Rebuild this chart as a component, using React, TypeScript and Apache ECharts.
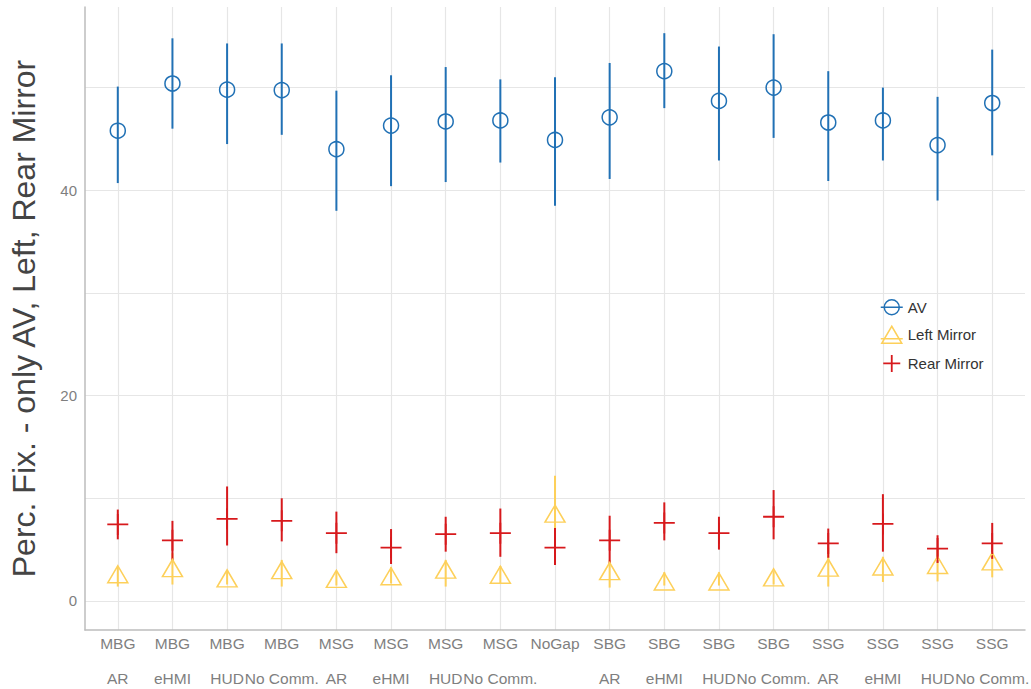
import React, { useEffect, useRef } from 'react';
import * as echarts from 'echarts';

const categories = [
  'MBG\nAR', 'MBG\neHMI', 'MBG\nHUD', 'MBG\nNo Comm.',
  'MSG\nAR', 'MSG\neHMI', 'MSG\nHUD', 'MSG\nNo Comm.',
  'NoGap',
  'SBG\nAR', 'SBG\neHMI', 'SBG\nHUD', 'SBG\nNo Comm.',
  'SSG\nAR', 'SSG\neHMI', 'SSG\nHUD', 'SSG\nNo Comm.',
];

const avMean = [45.8, 50.4, 49.8, 49.75, 44.0, 46.3, 46.7, 46.8, 44.9, 47.1, 51.6, 48.7, 50.0, 46.6, 46.8, 44.4, 48.5];
const avLow = [40.7, 46.0, 44.5, 45.4, 38.0, 40.4, 40.8, 42.7, 38.5, 41.1, 48.0, 42.9, 45.1, 40.9, 42.9, 39.0, 43.4];
const avHigh = [50.1, 54.8, 54.3, 54.3, 49.7, 51.2, 52.0, 50.8, 51.0, 52.4, 55.3, 54.0, 55.2, 51.6, 50.0, 49.1, 53.7];

const leftMean = [2.6, 3.2, 2.2, 3.0, 2.15, 2.4, 3.05, 2.55, 8.5, 2.9, 1.9, 1.9, 2.3, 3.25, 3.35, 3.5, 3.85];
const leftLow = [1.4, 1.6, 1.6, 1.4, 1.5, 1.7, 1.4, 1.7, 4.85, 1.3, 1.5, 1.5, 1.6, 1.4, 1.85, 1.9, 2.3];
const leftHigh = [3.35, 4.65, 3.0, 4.0, 2.9, 3.3, 4.0, 3.4, 12.2, 4.0, 2.8, 2.8, 2.9, 5.2, 4.3, 5.0, 4.7];

const rearMean = [7.45, 5.9, 8.0, 7.8, 6.6, 5.2, 6.5, 6.6, 5.2, 5.9, 7.6, 6.6, 8.2, 5.6, 7.5, 5.1, 5.6];
const rearLow = [6.0, 3.9, 5.4, 5.8, 4.65, 3.6, 4.8, 4.3, 3.5, 3.6, 5.9, 5.0, 6.0, 4.2, 4.8, 3.7, 4.1];
const rearHigh = [8.9, 7.8, 11.15, 10.0, 8.7, 7.0, 8.2, 9.0, 7.1, 8.3, 9.6, 8.2, 10.8, 7.05, 10.4, 6.4, 7.6];

const yGridValues = [0, 10, 20, 30, 40, 50];
const yLabelValues = [0, 20, 40];

const BLUE = '#2171b5';
const YELLOW = '#fdd05a';
const RED = '#d7191c';
const FONT = '"Liberation Sans", Arial, Helvetica, sans-serif';

function errorSeries(name: string, low: number[], high: number[], color: string, width: number) {
  return {
    type: 'custom',
    name,
    data: low.map((l, i) => [i, l, high[i]]),
    encode: { x: 0, y: [1, 2] },
    renderItem: (_params: any, api: any) => {
      const x = api.value(0);
      const p1 = api.coord([x, api.value(1)]);
      const p2 = api.coord([x, api.value(2)]);
      return {
        type: 'line',
        shape: { x1: p1[0], y1: p1[1], x2: p2[0], y2: p2[1] },
        style: { stroke: color, lineWidth: width },
      };
    },
    silent: true,
    z: 2,
  };
}

function pointSeries(name: string, values: number[], symbol: string, size: any, color: string, bw: number) {
  return {
    type: 'scatter',
    name,
    data: values.map((v, i) => [i, v]),
    symbol,
    symbolSize: size,
    itemStyle: { color: 'rgba(0,0,0,0)', borderColor: color, borderWidth: bw, opacity: 1 },
    z: 3,
  };
}

export default function App() {
  const ref = useRef<HTMLDivElement>(null);
  useEffect(() => {
    if (!ref.current) return;
    const chart = echarts.init(ref.current, undefined, { renderer: 'svg' });
    const idx = categories.map((_, i) => i);
    chart.setOption({
      animation: false,
      backgroundColor: '#ffffff',
      grid: { left: 85, right: 6, top: 7, bottom: 59, containLabel: false, outerBoundsMode: 'none' },
      xAxis: {
        type: 'value',
        min: -0.6,
        max: 16.6,
        axisLine: { show: true, onZero: false, lineStyle: { color: '#bdbdbd', width: 1.5 } },
        axisTick: { show: false, customValues: idx },
        axisLabel: {
          customValues: idx,
          formatter: (v: number) => categories[Math.round(v)],
          color: '#7f7f7f',
          fontSize: 15.5,
          fontFamily: FONT,
          lineHeight: 35,
          margin: -4,
        },
        splitLine: { show: true, lineStyle: { color: '#e6e6e6', width: 1.2 } },
      },
      yAxis: {
        type: 'value',
        min: -2.83,
        max: 57.85,
        name: 'Perc. Fix. - only AV, Left, Rear Mirror',
        nameLocation: 'middle',
        nameGap: 45,
        nameTextStyle: { fontSize: 32, color: '#444444', fontFamily: FONT },
        axisLine: { show: true, onZero: false, lineStyle: { color: '#bdbdbd', width: 1.5 } },
        axisTick: { show: false, customValues: yGridValues },
        axisLabel: {
          customValues: yLabelValues,
          color: '#7f7f7f',
          fontSize: 15,
          fontFamily: FONT,
          margin: 8,
        },
        splitLine: { show: true, lineStyle: { color: '#e6e6e6', width: 1.2 } },
      },
      legend: {
        orient: 'vertical',
        left: 880,
        top: 299,
        itemGap: 10,
        itemWidth: 22,
        itemHeight: 17,
        padding: 0,
        textStyle: { fontSize: 15, color: '#333333', fontFamily: FONT },
        data: [
          {
            name: 'AV',
            icon: 'path://M-7.5,0 A7.5,7.5 0 1,1 7.5,0 A7.5,7.5 0 1,1 -7.5,0 Z M-11,0 L11,0',
            itemStyle: { color: 'rgba(0,0,0,0)', borderColor: BLUE, borderWidth: 1.5 },
          },
          {
            name: 'Left Mirror',
            icon: 'path://M0,-8.5 L10,8.5 L-10,8.5 Z M-11,4 L11,4',
            itemStyle: { color: 'rgba(0,0,0,0)', borderColor: YELLOW, borderWidth: 1.5 },
          },
          {
            name: 'Rear Mirror',
            icon: 'path://M0,-11 L0,11 M-11,0 L11,0',
            itemStyle: { color: 'rgba(0,0,0,0)', borderColor: RED, borderWidth: 1.8 },
          },
        ],
      },
      series: [
        errorSeries('AV err', avLow, avHigh, BLUE, 2),
        errorSeries('Left err', leftLow, leftHigh, YELLOW, 2),
        errorSeries('Rear err', rearLow, rearHigh, RED, 2),
        pointSeries('AV', avMean, 'circle', 15, BLUE, 1.5),
        pointSeries('Left Mirror', leftMean, 'triangle', [20, 17], YELLOW, 1.5),
        pointSeries('Rear Mirror', rearMean, 'path://M0,-1 L0,1 M-1,0 L1,0', 21, RED, 1.8),
      ],
    });
    return () => chart.dispose();
  }, []);
  return (
    <div
      ref={ref}
      style={{ position: 'fixed', left: 0, top: 0, width: 1031, height: 689 }}
    />
  );
}
